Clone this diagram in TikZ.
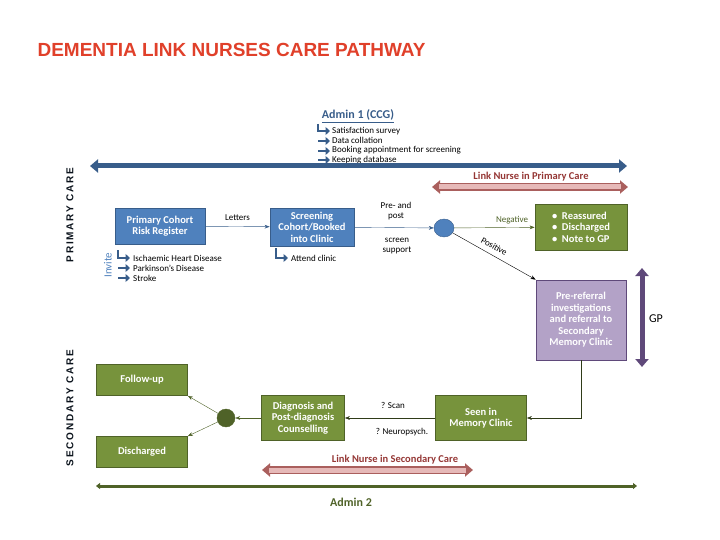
\documentclass[tikz,border=0pt]{standalone}
\usepackage{fontspec}
\setmainfont{Carlito}
\newfontfamily\titlefont{Liberation Sans}
\newfontfamily\sidefont[LetterSpace=18]{Liberation Sans}
\usetikzlibrary{arrows.meta,positioning,shapes.geometric}
\definecolor{boxblue}{HTML}{4F81BD}
\definecolor{lineblue}{HTML}{385D8A}
\definecolor{boxgreen}{HTML}{77933C}
\definecolor{linegreen}{HTML}{4F6228}
\definecolor{boxpurple}{HTML}{B3A2C7}
\definecolor{linepurple}{HTML}{5F497A}
\definecolor{nursepink}{HTML}{E6B9B8}
\definecolor{nursered}{HTML}{953735}
\definecolor{titlered}{HTML}{E0402A}
\tikzset{
  box/.style={draw,thick,text=white,font=\bfseries\fontsize{10.5}{11.5}\selectfont,align=center,inner sep=2pt},
  bluebox/.style={box,fill=boxblue,draw=lineblue},
  greenbox/.style={box,fill=boxgreen,draw=linegreen},
  purplebox/.style={box,fill=boxpurple,draw=linepurple},
  small/.style={font=\fontsize{9}{9.5}\selectfont},
  flow/.style={thin,-{Stealth[length=5pt]}},
  band/.style={line width=5pt,{Triangle[length=8pt,width=13pt]}-{Triangle[length=8pt,width=13pt]}},
  side/.style={rotate=90,font=\sidefont\bfseries\fontsize{10}{10}\selectfont,text=black!80!lineblue},
  tick/.style={line width=2.8pt,lineblue,-{Triangle[length=4.5pt,width=8pt]}}
}
\begin{document}
\begin{tikzpicture}[x=1pt,y=-1pt]
\useasboundingbox (0,0) rectangle (720,540);
\node[anchor=west,text=titlered,font=\titlefont\bfseries\fontsize{19}{20}\selectfont] (title) at (34,50) {DEMENTIA LINK NURSES CARE PATHWAY};

% admin bands
\node[font=\bfseries\fontsize{12}{12}\selectfont,text=lineblue] (admin1) at (358,116) {\underline{Admin 1 (CCG)}};
\draw[tick] (318,124) |- (330,131);
\foreach \y in {141,151,160} \draw[tick] (318,\y) -- (330,\y);
\foreach \t [count=\i] in {Satisfaction survey,Data collation,Booking appointment for screening,Keeping database}
  \node[small,anchor=west,inner sep=0pt] (admin1\i) at (332,121+9.7*\i) {\t};
\coordinate (adminL) at (90,166); \coordinate (adminR) at (627,166);
\draw[band,lineblue] (adminL) -- (adminR);
\coordinate (nurseAL) at (432,187); \coordinate (nurseAR) at (628,187);
\draw[band,line width=8pt,nursered!80] (nurseAL) -- (nurseAR);
\draw[line width=5pt,nursepink,shorten <=7pt,shorten >=7pt] (nurseAL) -- (nurseAR);
\node[text=nursered,font=\bfseries\fontsize{10.5}{11}\selectfont] (nurse1) at (531,177) {Link Nurse in Primary Care};

\node[side] (primary) at (70,215) {PRIMARY CARE};
\node[side] (secondary) at (70,408) {SECONDARY CARE};

% primary care
\node[bluebox,minimum width=90pt,minimum height=36pt] (cohort) at (160,226) {Primary Cohort\\Risk Register};
\node[bluebox,minimum width=84pt,minimum height=38pt] (screening) at (312,227) {Screening\\Cohort/Booked\\into Clinic};
\draw[flow,lineblue] (cohort) -- node[above,small,text=black,yshift=2pt] {Letters} (screening);
\node[draw=lineblue,fill=boxblue,ellipse,minimum width=20pt,minimum height=18pt,inner sep=0pt] (test) at (444,228) {};
\draw[flow,lineblue] (screening) -- (test);
\node[small,align=center] (prepost) at (396,211) {Pre- and\\post};
\node[small,align=center] (support) at (397,246) {screen\\support};
\node[rotate=90,text=boxblue,font=\fontsize{11}{11}\selectfont] (invite) at (108,265) {Invite};
\draw[tick] (118,250) |- (130,258);
\foreach \y in {268,278} \draw[tick] (118,\y) -- (130,\y);
\foreach \t [count=\i] in {Ischaemic Heart Disease,Parkinson's Disease,Stroke}
  \node[small,anchor=west,inner sep=0pt] (risk\i) at (133,248+10*\i) {\t};
\draw[tick] (276,248) |- (288,258);
\node[small,anchor=west,inner sep=0pt] (attend) at (291,258) {Attend clinic};

\node[greenbox,minimum width=92pt,minimum height=46pt,align=left] (reassured) at (581,227) {\textbullet\ \ Reassured\\\textbullet\ \ Discharged\\\textbullet\ \ Note to GP};
\draw[flow,linegreen] (test) -- node[above,small,text=linegreen,pos=.72] {Negative} (reassured);
\node[purplebox,minimum width=90pt,minimum height=80pt] (referral) at (581,320) {Pre-referral\\investigations\\and referral to\\Secondary\\Memory Clinic};
\draw[flow] (test) -- node[above=2pt,sloped,small,pos=.45] {Positive} (referral.north west);
\coordinate (gpT) at (642,268); \coordinate (gpB) at (642,367);
\draw[band,linepurple] (gpT) -- (gpB);
\node[font=\fontsize{12}{12}\selectfont] (gp) at (656,319) {GP};

% secondary care
\node[greenbox,minimum width=91pt,minimum height=45pt] (seen) at (481,418) {Seen in\\Memory Clinic};
\draw[flow,linegreen!60!black] (referral) |- (seen);
\node[greenbox,minimum width=83pt,minimum height=45pt] (diagnosis) at (303,418) {Diagnosis and\\Post-diagnosis\\Counselling};
\draw[flow,linegreen!60!black] (seen) -- (diagnosis);
\node[small] (scan) at (393,405) {? Scan};
\node[small] (neuro) at (402,432) {? Neuropsych.};
\node[draw=linegreen,fill=linegreen,circle,minimum size=18pt,inner sep=0pt] (outcome) at (226,418) {};
\draw[flow,linegreen] (diagnosis) -- (outcome);
\node[greenbox,minimum width=91pt,minimum height=31pt] (followup) at (142,380) {Follow-up};
\node[greenbox,minimum width=91pt,minimum height=31pt] (discharged) at (142,452) {Discharged};
\draw[flow,linegreen] (outcome) -- (followup.south east);
\draw[flow,linegreen] (outcome) -- (discharged.north east);
\coordinate (nurseBL) at (262,470); \coordinate (nurseBR) at (473,470);
\draw[band,line width=8pt,nursered!80] (nurseBL) -- (nurseBR);
\draw[line width=5pt,nursepink,shorten <=7pt,shorten >=7pt] (nurseBL) -- (nurseBR);
\node[text=nursered,font=\bfseries\fontsize{10.5}{11}\selectfont] (nurse2) at (395,460) {Link Nurse in Secondary Care};
\coordinate (admin2L) at (96,486); \coordinate (admin2R) at (637,486);
\draw[line width=3pt,linegreen,{Triangle[length=4pt,width=6pt]}-{Triangle[length=4pt,width=6pt]}] (admin2L) -- (admin2R);
\node[text=linegreen,font=\bfseries\fontsize{12}{12}\selectfont] (admin2) at (351,502) {Admin 2};
\end{tikzpicture}
\end{document}
